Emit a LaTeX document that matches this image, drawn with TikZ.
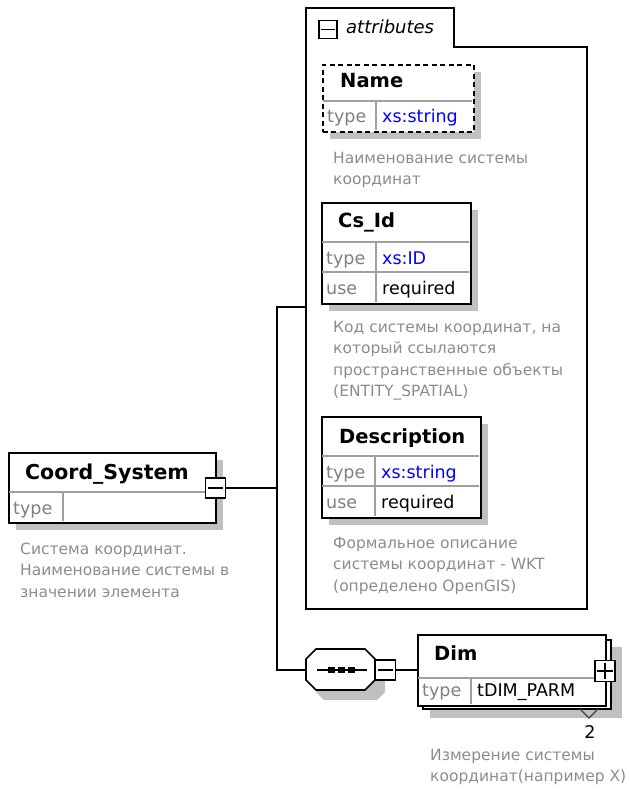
\documentclass[tikz,border=0pt]{standalone}
\usepackage{fontspec}
\setmainfont{DejaVu Sans}
\definecolor{shadowgray}{HTML}{C0C0C0}
\definecolor{descgray}{HTML}{8C8C8C}
\definecolor{cellgray}{HTML}{808080}
\definecolor{rowline}{HTML}{A0A0A0}
\definecolor{typeblue}{HTML}{0000FF}
\begin{document}
\begin{tikzpicture}[x=1pt,y=-1pt,
  border/.style={draw=black,line width=1.6pt,fill=white},
  shadowbox/.style={fill=shadowgray,draw=none},
  rowsep/.style={draw=rowline,line width=1.1pt},
  hdr/.style={font=\bfseries\fontsize{19.5}{23}\selectfont,anchor=base west,inner sep=0pt},
  lbl/.style={font=\fontsize{17.5}{21}\selectfont,text=cellgray,anchor=base west,inner sep=0pt},
  val/.style={font=\fontsize{17.5}{21}\selectfont,anchor=base west,inner sep=0pt},
  desc/.style={font=\fontsize{15.5}{21.5}\selectfont,text=descgray,align=left,anchor=north west,inner sep=0pt},
  wire/.style={draw=black,line width=1.6pt},
  btn/.style={draw=black,line width=1.5pt,fill=white}]
\useasboundingbox (0,0) rectangle (629,794);

% ---------- attributes group ----------
\draw[line width=1.6pt] (306,8) -- (454,8) -- (454,47) -- (587,47) -- (587,609) -- (306,609) -- cycle;
\node[btn,minimum width=18pt,minimum height=18pt,inner sep=0pt,anchor=north west] (attbtn) at (318,20) {};
\draw[line width=1.4pt] ([xshift=3pt]attbtn.west) -- ([xshift=-3pt]attbtn.east);
\node[font=\itshape\fontsize{18}{22}\selectfont,anchor=base west,inner sep=0pt] (atttxt) at (346,34) {attributes};
\coordinate (attin) at (306,307);

% ---------- Name (optional, dashed) ----------
\fill[shadowgray] (330,72) rectangle (481,139);
\node[draw=black,fill=white,line width=1.6pt,dash pattern=on 5pt off 3.5pt,minimum width=151pt,minimum height=67pt,inner sep=0pt,anchor=north west] (name) at (322,64) {};
\draw[rowsep] (323,101) -- (472,101);
\draw[rowsep] (376,101) -- (376,130);
\node[hdr] (nameh) at (340,88) {Name};
\node[lbl] (namet) at (327,123) {type};
\node[val,text=typeblue] (namev) at (382,123) {xs:string};
\node[desc] (named) at (333,150) {\rule{0pt}{13pt}Наименование системы\\координат};

% ---------- Cs_Id ----------
\fill[shadowgray] (329,210) rectangle (478,311);
\node[border,minimum width=149pt,minimum height=101pt,inner sep=0pt,anchor=north west] (csid) at (321,202) {};
\draw[rowsep] (322,242) -- (469,242);
\draw[rowsep] (322,272) -- (469,272);
\draw[rowsep] (376,242) -- (376,302);
\node[hdr] (csidh) at (338,227) {Cs\_Id};
\node[lbl] (csidt) at (326,264) {type};
\node[val,text=typeblue] (csidv) at (382,264) {xs:ID};
\node[lbl] (csidu) at (326,294) {use};
\node[val] (csidr) at (382,294) {required};
\node[desc] (csidd) at (333,319) {\rule{0pt}{13pt}Код системы координат, на\\который ссылаются\\пространственные объекты\\(ENTITY\_SPATIAL)};

% ---------- Description ----------
\fill[shadowgray] (329,424) rectangle (488,525);
\node[border,minimum width=159pt,minimum height=101pt,inner sep=0pt,anchor=north west] (descr) at (321,416) {};
\draw[rowsep] (322,456) -- (479,456);
\draw[rowsep] (322,486) -- (479,486);
\draw[rowsep] (375,456) -- (375,516);
\node[hdr] (descrh) at (339,443) {Description};
\node[lbl] (descrt) at (326,478) {type};
\node[val,text=typeblue] (descrv) at (381,478) {xs:string};
\node[lbl] (descru) at (326,508) {use};
\node[val] (descrr) at (381,508) {required};
\node[desc] (descrd) at (333,535) {\rule{0pt}{13pt}Формальное описание\\системы координат - WKT\\(определено OpenGIS)};

% ---------- Coord_System ----------
\fill[shadowgray] (16,460) rectangle (223,530);
\node[border,minimum width=207pt,minimum height=70pt,inner sep=0pt,anchor=north west] (cs) at (8,452) {};
\draw[rowsep] (9,492) -- (214,492);
\draw[rowsep] (63,492) -- (63,521);
\node[hdr,font=\bfseries\fontsize{20.5}{24}\selectfont] (csh) at (25,479) {Coord\_System};
\node[lbl] (cst) at (13,514) {type};
\node[desc] (csd) at (20,541) {\rule{0pt}{13pt}Система координат.\\Наименование системы в\\значении элемента};
\node[btn,minimum width=20pt,minimum height=20pt,inner sep=0pt] (csbtn) at (215.5,488) {};
\draw[line width=1.4pt] ([xshift=3pt]csbtn.west) -- ([xshift=-3pt]csbtn.east);

% ---------- sequence compositor ----------
\fill[shadowgray] (316,667) -- (324,659) -- (377,659) -- (385,667) -- (385,692) -- (377,700) -- (324,700) -- (316,692) -- cycle;
\node[minimum width=69pt,minimum height=41pt,inner sep=0pt] (seq) at (340.5,670) {};
\draw[line width=1.6pt,fill=white] (306,659) -- (316,649) -- (365,649) -- (375,659) -- (375,680) -- (365,690) -- (316,690) -- (306,680) -- cycle;
\draw[line width=1.5pt] (317,670) -- (367,670);
\foreach \dx in {331.5,341.5,351.5} \fill (\dx-3.2,667) rectangle (\dx+3.2,673);
\node[btn,minimum width=20pt,minimum height=20pt,inner sep=0pt] (seqbtn) at (385.5,670) {};
\draw[line width=1.4pt] ([xshift=3pt]seqbtn.west) -- ([xshift=-3pt]seqbtn.east);

% ---------- connectors ----------
\coordinate (fork) at (277,488);
\coordinate (forktop) at (277,307);
\coordinate (forkbot) at (277,670);
\draw[wire] (csbtn.east) -- (fork);
\draw[wire,line join=miter] (attin) -- (forktop) -- (forkbot) -- (seq.west);

% ---------- Dim (repeated) ----------
\fill[shadowgray] (430,647) rectangle (622,718);
\draw[line width=1.6pt,fill=white] (423,640) rectangle (611,709);
\node[border,minimum width=188pt,minimum height=71pt,inner sep=0pt,anchor=north west] (dim) at (417,634) {};
\draw[rowsep] (418,678) -- (604,678);
\draw[rowsep] (471,678) -- (471,704);
\node[hdr] (dimh) at (434,660) {Dim};
\node[lbl] (dimt) at (422,696) {type};
\node[val] (dimv) at (477,696) {tDIM\_PARM};
\node[btn,minimum width=20pt,minimum height=21pt,inner sep=0pt] (dimbtn) at (605,671) {};
\draw[line width=1.4pt] ([xshift=3pt]dimbtn.west) -- ([xshift=-3pt]dimbtn.east);
\draw[line width=1.4pt] ([yshift=-3pt]dimbtn.north) -- ([yshift=3pt]dimbtn.south);
\draw[line width=1.1pt,draw=black!75] (580,709) -- (589,718) -- (598,709);
\node[font=\fontsize{17.5}{21}\selectfont,anchor=base,inner sep=0pt] (dimmax) at (590,738) {2};
\node[desc] (dimd) at (430,747) {\rule{0pt}{13pt}Измерение системы\\координат(например X)};
\draw[wire] (seqbtn.east) -- (dim.west |- seqbtn.east);
\end{tikzpicture}
\end{document}
